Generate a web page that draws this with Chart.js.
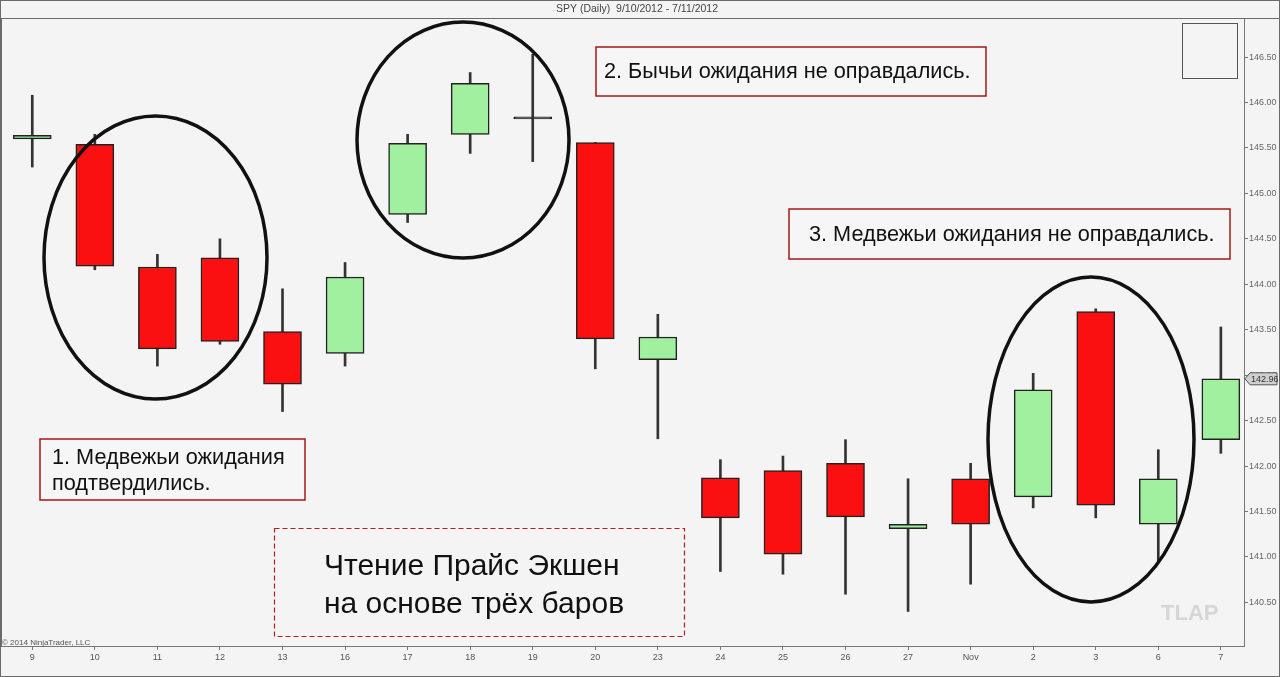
<!DOCTYPE html>
<html>
<head>
<meta charset="utf-8">
<script src="https://cdn.jsdelivr.net/npm/chart.js@4/dist/chart.umd.min.js"></script>
<style>
  html, body { margin: 0; padding: 0; background: #f4f4f4; }
  #wrap { position: relative; width: 1280px; height: 677px; }
</style>
</head>
<body>
<div id="wrap"><canvas id="myChart" width="1280" height="677"></canvas></div>
<script>
// SPY daily, 20 bars
const labels = ['9', '10', '11', '12', '13', '16', '17', '18', '19', '20', '23', '24', '25', '26', '27', 'Nov', '2', '3', '6', '7']
const opens  = [145.60, 145.54, 144.19, 144.29, 143.48, 143.24, 144.77, 145.65, 145.82, 145.56, 143.17, 141.87, 141.95, 142.03, 141.31, 141.86, 141.66, 143.70, 141.36, 142.29]
const highs  = [146.08, 145.65, 144.33, 144.50, 143.95, 144.24, 145.65, 146.33, 146.53, 145.56, 143.67, 142.07, 142.11, 142.29, 141.86, 142.03, 143.02, 143.73, 142.18, 143.53]
const lows   = [145.29, 144.16, 143.10, 143.34, 142.60, 143.10, 144.68, 145.44, 145.35, 143.07, 142.30, 140.84, 140.81, 140.59, 140.40, 140.70, 141.54, 141.43, 140.94, 142.14]
const closes = [145.64, 144.20, 143.29, 143.37, 142.90, 144.08, 145.55, 146.21, 145.82, 143.40, 143.42, 141.43, 141.03, 141.44, 141.36, 141.36, 142.84, 141.57, 141.86, 142.96]
const priceTicks = [140.5, 141, 141.5, 142, 142.5, 143, 143.5, 144, 144.5, 145, 145.5, 146, 146.5]
const lastPrice = 142.96

const upColor = '#a0f0a0'
const downColor = '#fa1010'
const dojiColor = '#333333'
const font = '"Liberation Sans", Arial, sans-serif'

const bodyColors = opens.map((o, i) => closes[i] > o ? upColor : (closes[i] < o ? downColor : dojiColor))

const ctx = document.getElementById('myChart')

// title, notes, ellipses, price tag
const overlay = {
    id: 'overlay',
    afterDraw(chart) {
        const c = chart.ctx
        const y = chart.scales.y
        c.save()

        // frame + title
        c.strokeStyle = '#6a6a6a'
        c.lineWidth = 1
        c.strokeRect(0.5, 0.5, 1279, 676)
        c.beginPath(); c.moveTo(0, 18.5); c.lineTo(1280, 18.5); c.stroke()
        c.beginPath(); c.moveTo(1.5, 18); c.lineTo(1.5, 646); c.stroke()
        c.fillStyle = '#444'
        c.font = '10.5px ' + font
        c.textAlign = 'center'
        c.textBaseline = 'middle'
        c.fillText('SPY (Daily)  9/10/2012 - 7/11/2012', 637, 9)

        // small box top right
        c.strokeStyle = '#555'
        c.strokeRect(1182.5, 23.5, 55, 55)

        // ellipses
        c.strokeStyle = '#111'
        c.lineWidth = 3.5
        ;[[155.5, 257.5, 111.5, 141.5], [463, 140, 106, 118], [1091, 439.5, 103, 162.5]].forEach(e => {
            c.beginPath()
            c.ellipse(e[0], e[1], e[2], e[3], 0, 0, Math.PI * 2)
            c.stroke()
        })

        // note boxes
        c.lineWidth = 1.5
        c.strokeStyle = '#a31818'
        c.fillStyle = '#f6f6f6'
        const boxes = [[40, 439, 265, 61], [596, 47, 390, 49], [789, 209, 441, 50]]
        boxes.forEach(b => { c.fillRect(b[0], b[1], b[2], b[3]); c.strokeRect(b[0], b[1], b[2], b[3]) })
        c.fillStyle = '#111'
        c.font = '21.7px ' + font
        c.textAlign = 'left'
        c.textBaseline = 'alphabetic'
        c.fillText('1. Медвежьи ожидания', 52, 464)
        c.fillText('подтвердились.', 52, 490)
        c.fillText('2. Бычьи ожидания не оправдались.', 604, 78)
        c.fillText('3. Медвежьи ожидания не оправдались.', 809, 241)

        // dashed box
        c.setLineDash([5, 3])
        c.lineWidth = 1.2
        c.strokeStyle = '#b02020'
        c.strokeRect(274.5, 528.5, 410, 108)
        c.setLineDash([])
        c.fillStyle = '#111'
        c.font = '30px ' + font
        c.fillText('Чтение Прайс Экшен', 324, 575)
        c.fillText('на основе трёх баров', 324, 613)

        // watermark + copyright
        c.fillStyle = '#d6d6d6'
        c.font = 'bold 22px ' + font
        c.fillText('TLAP', 1161, 620)
        c.fillStyle = '#555'
        c.font = '8px ' + font
        c.fillText('© 2014 NinjaTrader, LLC', 2, 645)

        // last price tag
        const py = y.getPixelForValue(lastPrice)
        c.fillStyle = '#cfcfcf'
        c.strokeStyle = '#555'
        c.lineWidth = 1
        c.beginPath()
        c.moveTo(1245, py)
        c.lineTo(1250, py - 6)
        c.lineTo(1277, py - 6)
        c.lineTo(1277, py + 6)
        c.lineTo(1250, py + 6)
        c.closePath()
        c.fill(); c.stroke()
        c.fillStyle = '#333'
        c.font = '9px ' + font
        c.textBaseline = 'middle'
        c.fillText(lastPrice.toFixed(2), 1251, py + 0.5)

        c.restore()
    }
}

const chart = new Chart(ctx, {
    type: 'bar',
    data: {
        datasets: [{
            data: labels.map((l, i) => ({ x: i, y: [opens[i], closes[i]] })),
            backgroundColor: bodyColors,
            borderColor: '#222',
            borderWidth: 1.5,
            borderSkipped: false,
            barThickness: 38,
            minBarLength: 2,
            grouped: false
        }, {
            data: labels.map((l, i) => ({ x: i, y: [lows[i], highs[i]] })),
            backgroundColor: '#333',
            borderWidth: 0,
            barThickness: 2,
            grouped: false
        }]
    },
    options: {
        responsive: false,
        animation: false,
        layout: {
            padding: { top: 18, left: 1, right: 0, bottom: 0 }
        },
        scales: {
            x: {
                type: 'linear',
                offset: false,
                min: -0.5,
                max: 19.37,
                afterBuildTicks: (scale) => { scale.ticks = labels.map((l, i) => ({ value: i })) },
                afterFit: (scale) => { scale.height = 31 },
                grid: {
                    offset: false,
                    drawOnChartArea: false,
                    drawTicks: true,
                    tickLength: 4,
                    color: '#777'
                },
                border: { color: '#777', width: 1 },
                ticks: {
                    autoSkip: false,
                    maxRotation: 0,
                    padding: 2,
                    color: '#555',
                    font: { family: font, size: 9 },
                    callback: (v) => labels[v]
                }
            },
            y: {
                position: 'right',
                min: 140.02,
                max: 146.93,
                afterBuildTicks: (scale) => { scale.ticks = priceTicks.map(v => ({ value: v })) },
                afterFit: (scale) => { scale.width = 36 },
                grid: {
                    drawOnChartArea: false,
                    drawTicks: true,
                    tickLength: 4,
                    color: '#777'
                },
                border: { color: '#777', width: 1 },
                ticks: {
                    padding: 1,
                    color: '#666',
                    font: { family: font, size: 9 },
                    callback: (v) => Number(v).toFixed(2)
                }
            }
        },
        plugins: {
            legend: { display: false },
            tooltip: { enabled: false },
            title: { display: false }
        }
    },
    plugins: [overlay]
})
</script>
</body>
</html>
